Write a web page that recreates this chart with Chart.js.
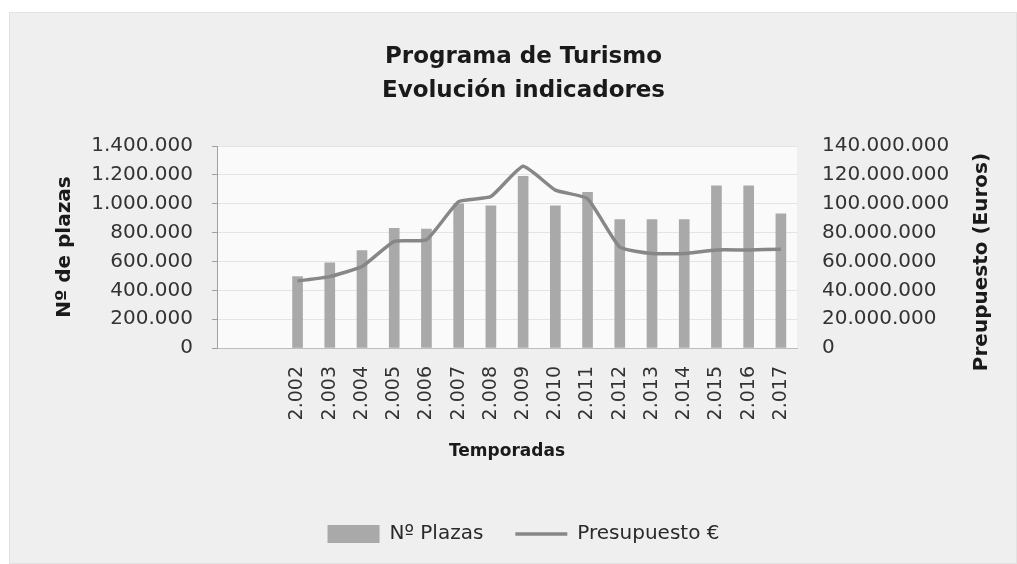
<!DOCTYPE html>
<html>
<head>
<meta charset="utf-8">
<script src="https://cdn.jsdelivr.net/npm/chart.js@4/dist/chart.umd.min.js"></script>
<style>
  html, body { margin: 0; padding: 0; background: #ffffff; }
  #frame { position: absolute; left: 9px; top: 12px; right: 0; bottom: 0; background: #efefef; border: 1px solid #e2e2e2; }
  #chart { position: absolute; left: 0; top: 0; }
</style>
</head>
<body>
<div id="frame"></div>
<canvas id="chart" width="1017" height="564"></canvas>
<script>
// Temporadas (dos huecos vacíos al principio, como en el original)
var temporadas = ['', '', '2.002', '2.003', '2.004', '2.005', '2.006', '2.007', '2.008', '2.009',
  '2.010', '2.011', '2.012', '2.013', '2.014', '2.015', '2.016', '2.017'];

// Nº de plazas
var plazas = [null, null, 495000, 590000, 675000, 830000, 825000, 1000000, 985000, 1190000,
  985000, 1080000, 890000, 890000, 890000, 1125000, 1125000, 930000];

// Presupuesto en euros
var presupuesto = [null, null, 46500000, 49500000, 56500000, 74000000, 75000000, 101500000, 105000000, 126000000,
  109500000, 103500000, 70000000, 65500000, 65500000, 68000000, 68000000, 68500000];

var ticksPlazas = [0, 200000, 400000, 600000, 800000, 1000000, 1200000, 1400000];
var ticksEuros = [0, 20000000, 40000000, 60000000, 80000000, 100000000, 120000000, 140000000];

var FONT = 'DejaVu Sans';

function puntos(v) {
  return v.toString().replace(/\B(?=(\d{3})+(?!\d))/g, '.');
}

var fondo = {
  id: 'fondo',
  beforeDraw: function (chart) {
    var a = chart.chartArea, ctx = chart.ctx;
    ctx.save();
    ctx.fillStyle = '#fafafa';
    ctx.fillRect(a.left, a.top, a.right - a.left, a.bottom - a.top);
    ctx.restore();
  },
  afterDraw: function (chart) {
    // título del eje derecho, leído de abajo arriba
    var a = chart.chartArea, ctx = chart.ctx;
    ctx.save();
    ctx.translate(982, (a.top + a.bottom) / 2 + 15);
    ctx.rotate(-Math.PI / 2);
    ctx.font = 'bold 20px "' + FONT + '"';
    ctx.fillStyle = '#1a1a1a';
    ctx.textAlign = 'center';
    ctx.textBaseline = 'middle';
    ctx.fillText('Preupuesto (Euros)', 0, 0);
    ctx.restore();
  }
};

var ctx = document.getElementById('chart').getContext('2d');
var chart = new Chart(ctx, {
  type: 'bar',
  data: {
    labels: temporadas,
    datasets: [{
      label: 'Nº Plazas',
      data: plazas,
      backgroundColor: '#a9a9a9',
      borderWidth: 0,
      barThickness: 10,
      yAxisID: 'y',
      order: 2,
      pointStyle: 'rect'
    }, {
      type: 'line',
      label: 'Presupuesto €',
      data: presupuesto,
      borderColor: '#878787',
      backgroundColor: '#878787',
      borderWidth: 3.5,
      pointRadius: 0,
      tension: 0.15,
      yAxisID: 'y1',
      order: 1,
      pointStyle: 'line'
    }]
  },
  options: {
    responsive: false,
    animation: false,
    layout: { padding: { left: 30, right: 0, top: 0, bottom: 10 } },
    plugins: {
      title: {
        display: true,
        text: ['Programa de Turismo', 'Evolución indicadores'],
        color: '#1a1a1a',
        font: { family: FONT, size: 23, weight: 'bold', lineHeight: 1.48 },
        padding: { top: 40, bottom: 38 }
      },
      legend: {
        position: 'bottom',
        labels: {
          usePointStyle: true,
          pointStyleWidth: 52,
          boxHeight: 18,
          padding: 32,
          color: '#2a2a2a',
          font: { family: FONT, size: 20 },
          sort: function (a, b) { return a.datasetIndex - b.datasetIndex; }
        }
      },
      tooltip: { enabled: false }
    },
    scales: {
      x: {
        grid: { display: false, drawTicks: false },
        border: { color: '#bdbdbd' },
        ticks: {
          minRotation: 90, maxRotation: 90, autoSkip: false, padding: 18,
          color: '#333333', font: { family: FONT, size: 19 }
        },
        title: {
          display: true, text: 'Temporadas', color: '#1a1a1a',
          font: { family: FONT, size: 17, weight: 'bold' },
          padding: { top: 0, bottom: 30 }
        },
        afterFit: function (s) { s.height = 144; }
      },
      y: {
        position: 'left',
        min: 0, max: 1400000,
        afterBuildTicks: function (s) { s.ticks = ticksPlazas.map(function (v) { return { value: v }; }); },
        grid: { color: '#e4e4e4', tickColor: '#a0a0a0', tickLength: 5 },
        border: { color: '#a0a0a0' },
        ticks: {
          padding: 19, color: '#333333', font: { family: FONT, size: 20 },
          callback: function (v) { return puntos(v); }
        },
        title: {
          display: true, text: 'Nº de plazas', color: '#1a1a1a',
          font: { family: FONT, size: 20, weight: 'bold' },
          padding: { top: 23 }
        },
        afterFit: function (s) { s.width = 187; }
      },
      y1: {
        position: 'right',
        min: 0, max: 140000000,
        afterBuildTicks: function (s) { s.ticks = ticksEuros.map(function (v) { return { value: v }; }); },
        grid: { display: false, drawTicks: false },
        border: { display: false },
        ticks: {
          padding: 25, color: '#333333', font: { family: FONT, size: 20 },
          callback: function (v) { return puntos(v); }
        },
        afterFit: function (s) { s.width = 220; }
      }
    }
  },
  plugins: [fondo]
});
</script>
</body>
</html>
